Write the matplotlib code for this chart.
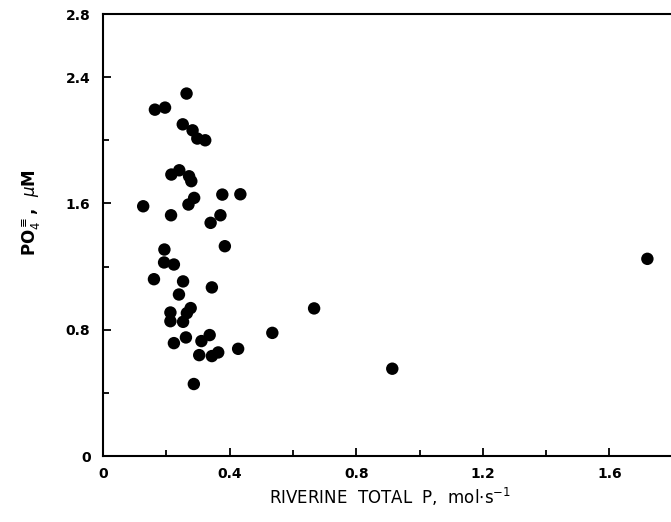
import matplotlib
matplotlib.use("Agg")
import matplotlib.pyplot as plt

# Data
riverine_p = [0.264, 0.164, 0.196, 0.252, 0.283, 0.298, 0.323, 0.216, 0.241, 0.272,
              0.279, 0.288, 0.270, 0.377, 0.434, 0.127, 0.215, 0.371, 0.340, 0.194,
              0.385, 0.193, 0.224, 0.161, 0.253, 0.344, 0.240, 0.277, 0.213, 0.265,
              0.213, 0.253, 0.667, 0.535, 0.337, 0.262, 0.224, 0.311, 0.427, 0.304,
              0.364, 0.344, 0.287, 1.720, 0.914]
po4 = [2.296, 2.194, 2.207, 2.101, 2.063, 2.011, 2.000, 1.783, 1.810, 1.772,
       1.741, 1.635, 1.593, 1.656, 1.658, 1.582, 1.525, 1.525, 1.477, 1.308,
       1.329, 1.226, 1.213, 1.120, 1.106, 1.068, 1.023, 0.937, 0.909, 0.905,
       0.854, 0.850, 0.935, 0.780, 0.766, 0.751, 0.715, 0.728, 0.679, 0.639,
       0.656, 0.633, 0.456, 1.249, 0.553]

x_major = [0, 0.4, 0.8, 1.2, 1.6]
x_major_labels = ["0", "0.4", "0.8", "1.2", "1.6"]
x_minor = [0.2, 0.6, 1.0, 1.4]
y_major = [0, 0.8, 1.6, 2.4, 2.8]
y_major_labels = ["0", "0.8", "1.6", "2.4", "2.8"]
y_minor = [0.4, 1.2, 2.0]

W, H = 671, 522
fig = plt.figure(figsize=(W / 100, H / 100), dpi=100)
left, right, top, bottom = 103, 672.7, 14, 456
ax = fig.add_axes([left / W, (H - bottom) / H, (right - left) / W, (bottom - top) / H])

ax.scatter(riverine_p, po4, s=80, color="black", edgecolors="none", zorder=3, clip_on=False)

ax.set_xlim(0, 1.8)
ax.set_ylim(0, 2.8)
ax.set_xticks(x_major)
ax.set_xticklabels(x_major_labels)
ax.set_xticks(x_minor, minor=True)
ax.set_yticks(y_major)
ax.set_yticklabels(y_major_labels)
ax.set_yticks(y_minor, minor=True)

for sp in ["left", "bottom", "top"]:
    ax.spines[sp].set_linewidth(1.5)
ax.spines["right"].set_visible(False)

ax.tick_params(which="both", direction="in", width=1.3, top=False, right=False)
ax.tick_params(which="major", length=6)
ax.tick_params(which="minor", length=4)
ax.tick_params(axis="x", which="major", pad=8)
ax.tick_params(axis="y", which="major", pad=9)
for lab in ax.get_xticklabels() + ax.get_yticklabels():
    lab.set_fontsize(10)
    lab.set_fontweight("bold")

fig.text(390 / W, 1 - 497 / H, r"RIVERINE  TOTAL  P,  mol$\cdot$s$^{-1}$",
         ha="center", va="center", fontsize=12)
fig.text(30 / W, 1 - 213 / H, r"PO$_4^{\equiv}$,  $\mu$M", rotation=90,
         ha="center", va="center", fontsize=12, fontweight="bold")

fig.savefig("out.png", dpi=100)
